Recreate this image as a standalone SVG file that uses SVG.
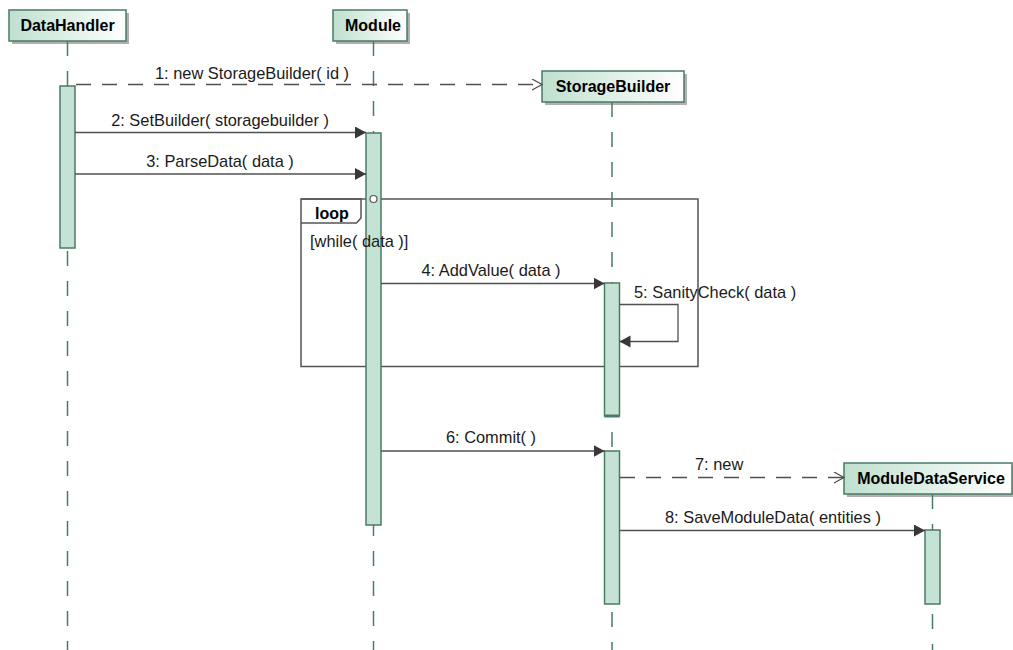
<svg xmlns="http://www.w3.org/2000/svg" width="1013" height="650" viewBox="0 0 1013 650">
  <style>
    text { font-family: "Liberation Sans", Arial, sans-serif; font-size: 16.4px; fill: #1a1a1a; }
    .title { font-weight: bold; font-size: 16px; fill: #000; }
    .head { fill: url(#headFill); stroke: #4b7b65; stroke-width: 1.5; }
    .shadow { fill: #b0b0b0; }
    .life { stroke: #4b7b65; stroke-width: 1.5; stroke-dasharray: 15 15; fill: none; }
    .act { fill: #c4e3d4; stroke: #4b7b65; stroke-width: 1.5; }
    .msg { stroke: #505050; stroke-width: 1.3; fill: none; marker-end: url(#solidHead); }
    .create { stroke: #505050; stroke-width: 1.3; fill: none; stroke-dasharray: 15 11; marker-end: url(#openHead); }
    .frame { stroke: #555; stroke-width: 1.5; fill: none; }
  </style>
  <defs>
    <linearGradient id="headFill" x1="0" y1="0" x2="1" y2="0">
      <stop offset="0" stop-color="#bfe0cf"/>
      <stop offset="1" stop-color="#ffffff"/>
    </linearGradient>
    <marker id="solidHead" markerUnits="userSpaceOnUse" markerWidth="13" markerHeight="13" refX="11" refY="6" orient="auto">
      <path d="M0,0 L11,6 L0,12 z" fill="#383838"/>
    </marker>
    <marker id="openHead" markerUnits="userSpaceOnUse" markerWidth="14" markerHeight="14" refX="11" refY="6" orient="auto">
      <path d="M1,0.5 L11,6 L1,11.5" fill="none" stroke="#505050" stroke-width="1.3"/>
    </marker>
  </defs>

  <rect width="1013" height="650" fill="#ffffff"/>

  <!-- combined fragment: loop (frame and tab) -->
  <g id="loop-fragment">
    <rect class="frame" x="301" y="199" width="397" height="167.5"/>
    <path class="frame" d="M301,199 L361,199 L361,218 L356.5,223 L301,223"/>
    <text class="title" x="315" y="219">loop</text>
  </g>

  <!-- lifeline: DataHandler -->
  <g id="DataHandler">
    <rect class="shadow" x="12" y="13" width="117" height="31"/>
    <rect class="head" x="9" y="10" width="117" height="31"/>
    <text class="title" x="67.5" y="31" text-anchor="middle">DataHandler</text>
    <line class="life" x1="67.5" y1="41" x2="67.5" y2="650"/>
    <rect class="act" x="60" y="86" width="15" height="162"/>
  </g>

  <!-- lifeline: Module -->
  <g id="Module">
    <rect class="shadow" x="336" y="13" width="74" height="31"/>
    <rect class="head" x="333" y="10" width="74" height="31"/>
    <text class="title" x="373" y="31" text-anchor="middle">Module</text>
    <line class="life" x1="373.5" y1="41" x2="373.5" y2="650"/>
    <rect class="act" x="366" y="133" width="15" height="392"/>
  </g>

  <!-- lifeline: StorageBuilder -->
  <g id="StorageBuilder">
    <rect class="shadow" x="545" y="74" width="142" height="31"/>
    <rect class="head" x="542" y="71" width="142" height="31"/>
    <text class="title" x="613" y="92" text-anchor="middle">StorageBuilder</text>
    <line class="life" x1="612" y1="102" x2="612" y2="650"/>
    <rect class="act" x="604.5" y="283" width="15" height="133"/>
    <line x1="604.5" y1="416" x2="619.5" y2="416" stroke="#4b7b65" stroke-width="3"/>
    <rect class="act" x="604.5" y="451" width="15" height="153"/>
  </g>

  <!-- lifeline: ModuleDataService -->
  <g id="ModuleDataService">
    <rect class="shadow" x="847" y="466" width="168" height="31"/>
    <rect class="head" x="844" y="463" width="168" height="31"/>
    <text class="title" x="931" y="484" text-anchor="middle">ModuleDataService</text>
    <line class="life" x1="932.5" y1="494" x2="932.5" y2="650"/>
    <rect class="act" x="925" y="530" width="15" height="74"/>
  </g>

  <!-- loop guard, drawn above the activation bar -->
  <text id="loop-guard" x="310" y="247">[while( data )]</text>

  <!-- messages -->
  <g id="connectors">
    <circle cx="373.5" cy="199" r="3.5" fill="#fff" stroke="#555" stroke-width="1.2"/>

    <line class="create" x1="76" y1="84.5" x2="542" y2="84.5"/>
    <text x="155" y="79">1: new StorageBuilder( id )</text>

    <line class="msg" x1="75" y1="132.5" x2="366" y2="132.5"/>
    <text x="220" y="126" text-anchor="middle">2: SetBuilder( storagebuilder )</text>

    <line class="msg" x1="75" y1="174" x2="366" y2="174"/>
    <text x="220" y="167" text-anchor="middle">3: ParseData( data )</text>

    <line class="msg" x1="381" y1="283.5" x2="604.5" y2="283.5"/>
    <text x="491" y="276" text-anchor="middle">4: AddValue( data )</text>

    <path class="msg" d="M619.5,304.5 L678,304.5 L678,341.5 L619.5,341.5"/>
    <text x="634" y="298">5: SanityCheck( data )</text>

    <line class="msg" x1="381" y1="451" x2="604.5" y2="451"/>
    <text x="491" y="443" text-anchor="middle">6: Commit( )</text>

    <line class="create" x1="620" y1="477.5" x2="844" y2="477.5"/>
    <text x="695" y="470">7: new</text>

    <line class="msg" x1="619.5" y1="530.5" x2="925" y2="530.5"/>
    <text x="665" y="523">8: SaveModuleData( entities )</text>
  </g>
</svg>
